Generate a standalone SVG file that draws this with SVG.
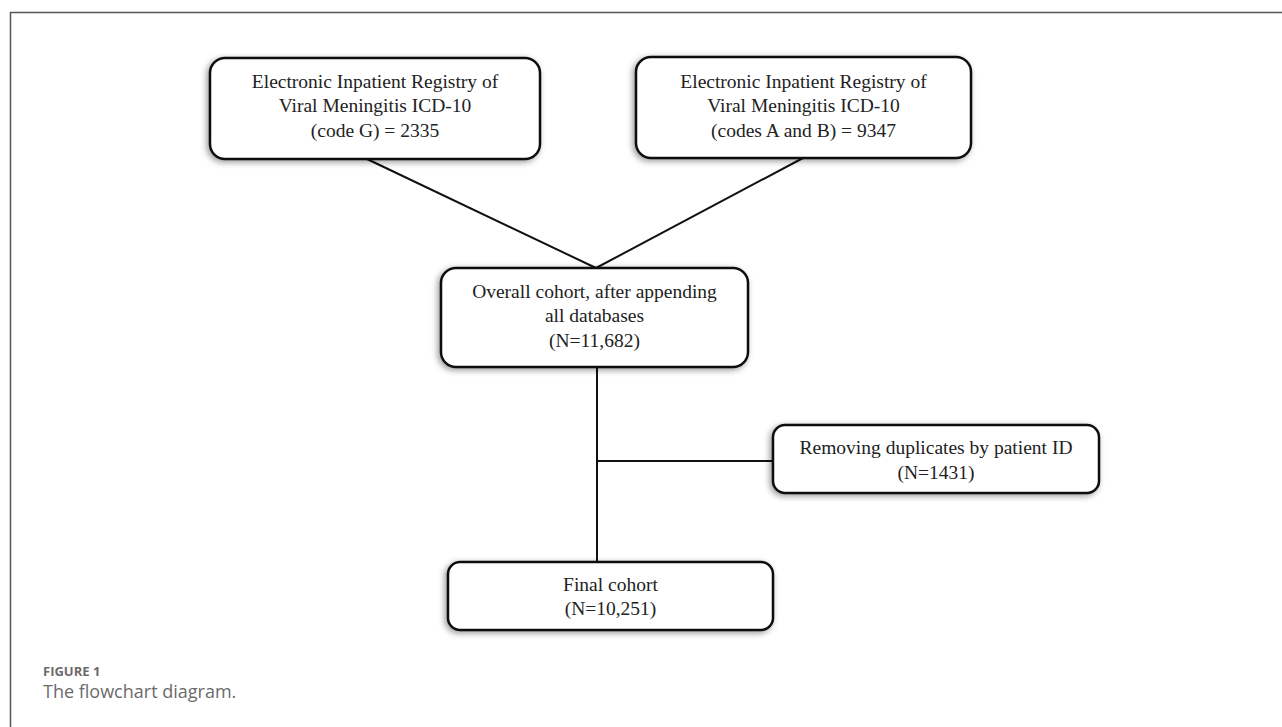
<svg xmlns="http://www.w3.org/2000/svg" width="1282" height="727" viewBox="0 0 1282 727">
<style>
.box{fill:#fff;stroke:#111;stroke-width:2.5}
.t{font-family:"Liberation Serif","Times New Roman",serif;font-size:19.5px;fill:#222;text-anchor:middle}
.c{stroke:#111;stroke-width:2;fill:none}
.cap1{font-family:"Open Sans",Lato,sans-serif;font-size:13px;font-weight:bold;fill:#6b6b6b}
.cap2{font-family:"Open Sans",Lato,sans-serif;font-size:18px;fill:#6b6b6b}
</style>
<defs>
<filter id="sh" x="-10%" y="-20%" width="120%" height="140%">
<feDropShadow dx="-2" dy="2" stdDeviation="3" flood-color="#000" flood-opacity="0.4"/>
</filter>
</defs>
<rect width="1282" height="727" fill="#fff"/>
<g id="frame">
<path d="M10.5 727 V12.5 H1282" fill="none" stroke="#555" stroke-width="1.5"/>
</g>
<g id="connectors">
<path class="c" d="M367 159 L596 268"/>
<path class="c" d="M803 158 L596 268"/>
<path class="c" d="M597 367 V562"/>
<path class="c" d="M597 461 H773"/>
</g>
<g id="n1">
<rect class="box" filter="url(#sh)" x="210" y="58" width="330" height="101" rx="15"/>
<text class="t" x="375" y="88">Electronic Inpatient Registry of</text>
<text class="t" x="375" y="112">Viral Meningitis ICD-10</text>
<text class="t" x="375" y="137">(code G) = 2335</text>
</g>
<g id="n2">
<rect class="box" filter="url(#sh)" x="636" y="57" width="335" height="101" rx="15"/>
<text class="t" x="803.5" y="88">Electronic Inpatient Registry of</text>
<text class="t" x="803.5" y="112">Viral Meningitis ICD-10</text>
<text class="t" x="803.5" y="137">(codes A and B) = 9347</text>
</g>
<g id="n3">
<rect class="box" filter="url(#sh)" x="441" y="268" width="307" height="99" rx="15"/>
<text class="t" x="594.5" y="298">Overall cohort, after appending</text>
<text class="t" x="594.5" y="322">all databases</text>
<text class="t" x="594.5" y="347">(N=11,682)</text>
</g>
<g id="n4">
<rect class="box" filter="url(#sh)" x="773" y="425" width="326" height="68" rx="12"/>
<text class="t" x="936" y="454">Removing duplicates by patient ID</text>
<text class="t" x="936" y="479">(N=1431)</text>
</g>
<g id="n5">
<rect class="box" filter="url(#sh)" x="448" y="562" width="325" height="68" rx="12"/>
<text class="t" x="610.5" y="591">Final cohort</text>
<text class="t" x="610.5" y="615">(N=10,251)</text>
</g>
<g id="caption">
<text class="cap1" x="43" y="676">FIGURE 1</text>
<text class="cap2" x="43" y="698">The flowchart diagram.</text>
</g>
</svg>
